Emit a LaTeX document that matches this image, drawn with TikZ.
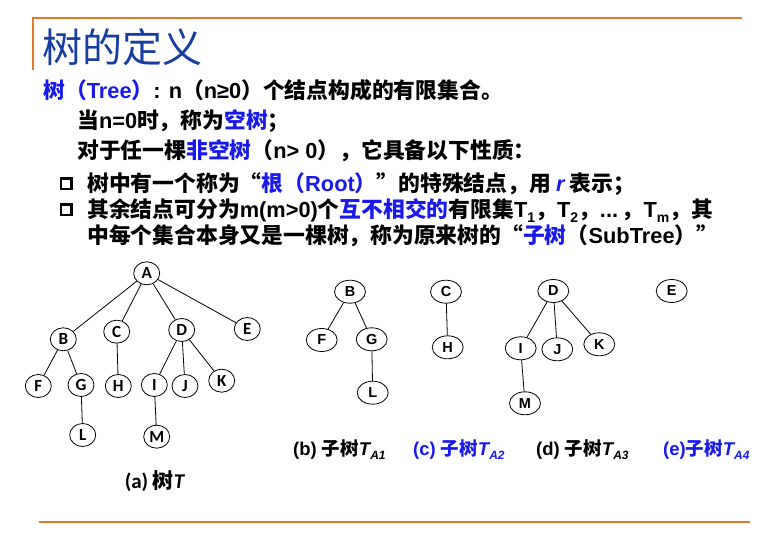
\documentclass[tikz,border=0pt]{standalone}
\usepackage{fontspec}
\setmainfont{Noto Sans CJK SC}
\newfontfamily\lat{Liberation Sans}
\newfontfamily\calib{Carlito}
\usetikzlibrary{shapes.geometric}
\definecolor{slideorange}{RGB}{224,122,40}
\definecolor{titleblue}{RGB}{22,62,160}
\definecolor{keyblue}{RGB}{25,25,235}
\newcommand{\sbs}[1]{\raisebox{-0.4ex}{\fontsize{14}{14}\selectfont #1}}
\newcommand{\capsub}[1]{\raisebox{-0.4ex}{\fontsize{12}{12}\selectfont #1}}

\begin{document}
\begin{tikzpicture}[x=1pt,y=-1pt,
  txt/.style={anchor=base west,inner sep=0pt,font=\fontsize{21.8}{24}\selectfont\bfseries},
  bullet/.style={draw,line width=2.5pt,inner sep=0pt,minimum size=10.5pt},
  vtx/.style={draw,ellipse,line width=0.8pt,inner sep=0pt,minimum width=26pt,minimum height=23pt,font=\calib\bfseries\fontsize{17}{17}\selectfont},
  svtx/.style={vtx,minimum width=31pt,font=\lat\bfseries\fontsize{14.5}{15}\selectfont},
  capline/.style={anchor=west,inner sep=0pt,font=\fontsize{18.5}{20}\selectfont\bfseries},
  edge/.style={line width=0.8pt}]
	\useasboundingbox (0,0) rectangle (769,534);
	\draw [slideorange,line width=1.5pt] (32,18) -- (742,18);
	\draw [slideorange,line width=1.5pt] (33,18) -- (33,70);
	\draw [slideorange,line width=2pt] (39,522) -- (750,522);
	\node [anchor=base west,inner sep=0pt,text=titleblue,font=\fontsize{40}{42}\selectfont] (title) at (42,63) {树的定义};
	\node [txt] (def) at (43,98.5) {{\color{keyblue}树（{\lat Tree}）}{\lat : n}（{\lat n≥0}）个结点构成的有限集合。};
	\node [txt] (empty) at (77,128.5) {当{\lat n=0}时，称为{\color{keyblue}空树}；};
	\node [txt] (nonempty) at (77,158.5) {对于任一棵{\color{keyblue}非空树}（{\lat n> 0}），它具备以下性质：};
	\node [bullet] (bul1) at (66,184) {};
	\node [txt] (root) at (87,191.5) {树中有一个称为“{\color{keyblue}根（{\lat Root}）}”的特殊结点，用 {\color{keyblue}\lat\itshape r} 表示；};
	\node [bullet] (bul2) at (66,210) {};
	\node [txt] (rest) at (87,217.5) {其余结点可分为{\lat m(m>0)}个{\color{keyblue}互不相交的}有限集{\lat T\sbs{1}}，{\lat T\sbs{2}}，{\lat ...}\,，{\lat T\sbs{m}}，其};
	\node [txt] (rest2) at (87,243.5) {中每个集合本身又是一棵树，称为原来树的“{\color{keyblue}子树}（{\lat SubTree}）”};

	\node [vtx] (A) at (146.7,273.3) {A};
	\node [vtx] (B) at (63.3,339.3) {B};
	\node [vtx] (C) at (116.7,331.7) {C};
	\node [vtx] (D) at (181.7,330) {D};
	\node [vtx] (E) at (247.3,329) {E};
	\node [vtx] (F) at (38.3,386) {F};
	\node [vtx] (G) at (81,385) {G};
	\node [vtx] (H) at (118.3,386) {H};
	\node [vtx] (I) at (154.3,385) {I};
	\node [vtx] (J) at (185,386) {J};
	\node [vtx] (K) at (221.7,380.7) {K};
	\node [vtx] (L) at (82.7,435) {L};
	\node [vtx] (M) at (156.7,436.7) {M};
	\draw [edge] (A) -- (B) (A) -- (C) (A) -- (D) (A) -- (E);
	\draw [edge] (B) -- (F) (B) -- (G) (G) -- (L) (C) -- (H);
	\draw [edge] (D) -- (I) (D) -- (J) (D) -- (K) (I) -- (M);
	\node [anchor=center,inner sep=0pt,font=\calib\bfseries\fontsize{21}{22}\selectfont] (capa) at (155,481) {(a) {\rmfamily 树}\textit{T}};

	\node [svtx] (sB) at (350,291.7) {B};
	\node [svtx] (sF) at (321.7,340) {F};
	\node [svtx] (sG) at (371.7,339.3) {G};
	\node [svtx] (sL) at (372.7,392.7) {L};
	\node [svtx] (sC) at (446,291.7) {C};
	\node [svtx] (sH) at (447.7,347.3) {H};
	\node [svtx] (sD) at (553.3,291) {D};
	\node [svtx] (sI) at (520.7,348.3) {I};
	\node [svtx] (sJ) at (557.3,349.3) {J};
	\node [svtx] (sK) at (599.3,344.3) {K};
	\node [svtx] (sM) at (525,403.3) {M};
	\node [svtx] (sE) at (671.7,291) {E};
	\draw [edge] (sB) -- (sF) (sB) -- (sG) (sG) -- (sL) (sC) -- (sH);
	\draw [edge] (sD) -- (sI) (sD) -- (sJ) (sD) -- (sK) (sI) -- (sM);

	\node [capline] (capb) at (293,450) {{\lat (b) }子树{\lat\itshape T\capsub{A1}}};
	\node [capline,text=keyblue] (capc) at (413,450) {{\lat (c) }子树{\lat\itshape T\capsub{A2}}};
	\node [capline] (capd) at (536,450) {{\lat (d) }子树{\lat\itshape T\capsub{A3}}};
	\node [capline,text=keyblue] (cape) at (663,450) {{\lat (e)}子树{\lat\itshape T\capsub{A4}}};
\end{tikzpicture}
\end{document}
